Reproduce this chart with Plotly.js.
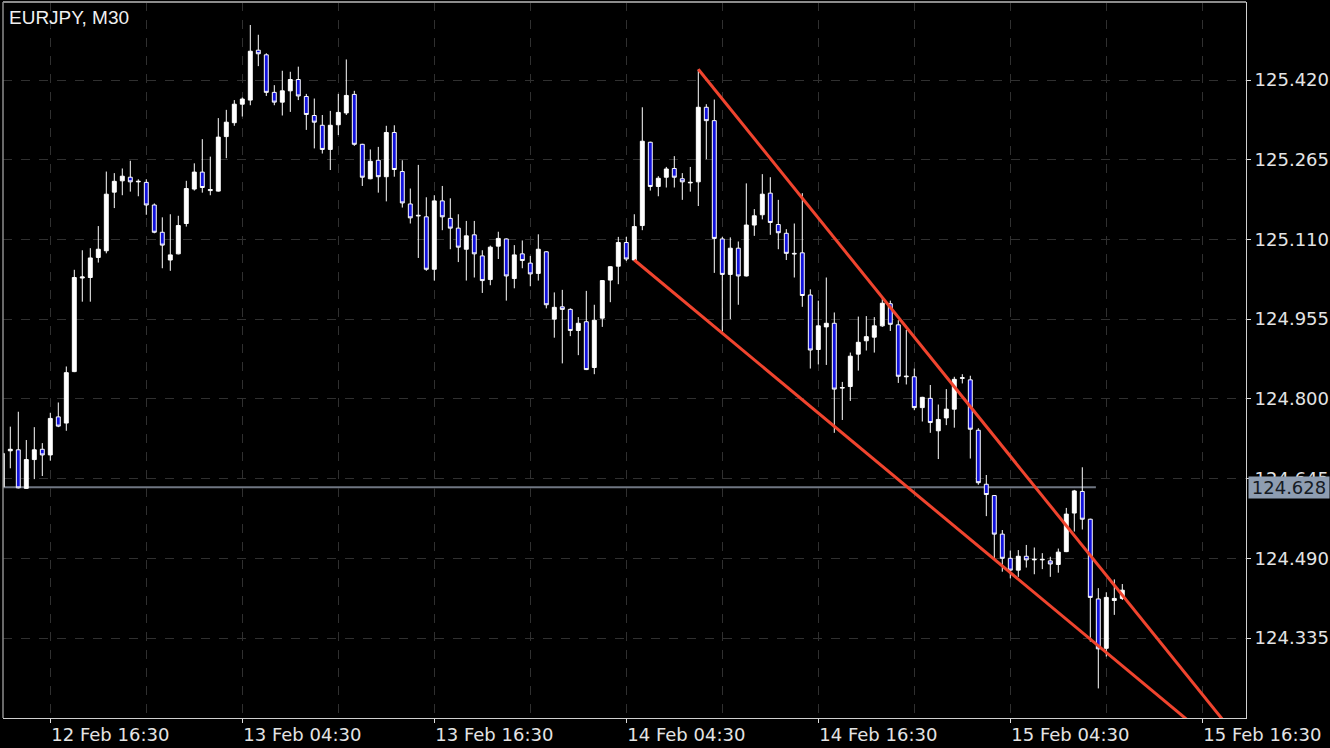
<!DOCTYPE html>
<html>
<head>
<meta charset="utf-8">
<script src="https://cdn.plot.ly/plotly-3.0.1.min.js"></script>
<style>
  html, body { margin: 0; padding: 0; background: #000; }
  #chart { width: 1330px; height: 748px; }
</style>
</head>
<body>
<div id="chart"></div>
<script>
// ---- Data (EURJPY, M30), first bar 2019-02-12 13:30, one bar every 30 minutes ----
const symbolTitle = "EURJPY, M30";
const firstBarTime = "2019-02-12T13:30:00Z";
const barMinutes = 30;

const openV = [124.629,124.699,124.701,124.626,124.682,124.702,124.691,124.765,124.753,124.853,
125.035,125.036,125.075,125.088,125.202,125.224,125.231,125.222,125.221,125.177,
125.124,125.070,125.082,125.141,125.208,125.241,125.205,125.204,125.310,125.337,
125.373,125.381,125.478,125.469,125.396,125.377,125.399,125.421,125.388,125.351,
125.332,125.285,125.333,125.356,125.392,125.295,125.228,125.264,125.232,125.318,
125.242,125.179,125.157,125.154,125.052,125.185,125.151,125.132,125.091,125.119,
125.078,125.032,125.097,125.111,125.034,125.082,125.064,125.044,125.086,124.955,
124.979,124.974,124.933,124.950,124.861,124.957,125.031,125.058,125.104,125.070,
125.137,125.299,125.213,125.231,125.248,125.228,125.220,125.222,125.367,125.341,
125.111,125.042,125.093,125.039,125.138,125.158,125.200,125.139,125.122,125.083,
125.084,125.002,124.896,124.940,124.947,124.821,124.824,124.887,124.913,124.920,
124.942,124.985,124.944,124.843,124.843,124.783,124.801,124.738,124.763,124.780,
124.840,124.837,124.739,124.634,124.612,124.537,124.490,124.467,124.494,124.487,
124.487,124.485,124.478,124.503,124.578,124.620,124.566,124.411,124.315,124.408,
124.412];

const highV = [124.701,124.746,124.775,124.720,124.745,124.714,124.773,124.793,124.863,125.051,
125.089,125.093,125.136,125.242,125.239,125.248,125.263,125.227,125.227,125.180,
125.153,125.159,125.156,125.224,125.258,125.305,125.271,125.346,125.362,125.381,
125.386,125.527,125.508,125.472,125.410,125.438,125.436,125.446,125.393,125.384,
125.352,125.360,125.393,125.460,125.399,125.296,125.285,125.290,125.331,125.332,
125.264,125.209,125.255,125.192,125.196,125.214,125.190,125.159,125.146,125.146,
125.089,125.098,125.125,125.112,125.099,125.108,125.078,125.120,125.087,125.007,
125.012,124.976,124.959,125.010,124.983,125.031,125.058,125.115,125.115,125.159,
125.367,125.300,125.233,125.251,125.272,125.239,125.251,125.441,125.373,125.382,
125.115,125.114,125.106,125.219,125.169,125.237,125.231,125.187,125.130,125.141,
125.200,125.013,124.991,125.036,124.968,124.833,124.890,124.960,124.961,124.959,
124.996,124.991,124.953,124.934,124.859,124.804,124.827,124.789,124.819,124.843,
124.848,124.845,124.743,124.652,124.613,124.545,124.505,124.506,124.516,124.511,
124.500,124.493,124.509,124.588,124.623,124.667,124.567,124.432,124.424,124.449,
124.440];

const lowV = [124.627,124.665,124.626,124.625,124.644,124.650,124.680,124.745,124.738,124.852,
124.989,124.989,125.065,125.083,125.171,125.196,125.203,125.194,125.158,125.122,
125.054,125.049,125.081,125.135,125.205,125.201,125.196,125.203,125.268,125.331,
125.349,125.371,125.447,125.389,125.371,125.351,125.358,125.381,125.323,125.287,
125.277,125.245,125.313,125.352,125.292,125.214,125.227,125.201,125.184,125.232,
125.172,125.141,125.074,125.049,125.030,125.128,125.091,125.066,125.030,125.036,
125.006,125.021,125.072,124.991,125.015,125.054,125.019,125.030,124.976,124.919,
124.869,124.922,124.885,124.856,124.848,124.940,124.988,125.023,125.068,125.069,
125.128,125.205,125.194,125.211,125.211,125.187,125.203,125.175,125.266,125.045,
124.931,124.955,124.983,125.038,125.117,125.149,125.119,125.091,125.070,125.036,
124.979,124.859,124.867,124.866,124.734,124.759,124.796,124.855,124.894,124.890,
124.940,124.932,124.831,124.828,124.778,124.756,124.734,124.683,124.749,124.744,
124.830,124.684,124.633,124.572,124.490,124.464,124.451,124.454,124.472,124.459,
124.469,124.454,124.462,124.502,124.542,124.546,124.328,124.237,124.299,124.380,
124.409];

const closeV = [124.694,124.702,124.627,124.682,124.701,124.691,124.762,124.747,124.851,125.036,
125.037,125.074,125.091,125.198,125.223,125.233,125.222,125.223,125.177,125.124,
125.099,125.080,125.137,125.209,125.241,125.211,125.207,125.309,125.338,125.373,
125.383,125.476,125.471,125.396,125.377,125.399,125.421,125.389,125.353,125.338,
125.285,125.332,125.357,125.390,125.295,125.231,125.262,125.232,125.318,125.246,
125.181,125.152,125.156,125.052,125.185,125.154,125.132,125.095,125.117,125.082,
125.030,125.095,125.112,125.039,125.080,125.069,125.043,125.091,124.983,124.978,
124.974,124.933,124.947,124.857,124.953,125.030,125.057,125.104,125.072,125.135,
125.301,125.213,125.229,125.247,125.231,125.222,125.221,125.367,125.341,125.112,
125.042,125.093,125.039,125.138,125.156,125.198,125.143,125.123,125.083,125.082,
125.001,124.895,124.942,124.947,124.819,124.822,124.883,124.910,124.921,124.942,
124.986,124.945,124.844,124.844,124.783,124.803,124.754,124.760,124.780,124.838,
124.841,124.741,124.637,124.614,124.537,124.490,124.467,124.494,124.487,124.488,
124.488,124.479,124.502,124.576,124.621,124.566,124.414,124.314,124.414,124.412,
124.428];

// y-axis tick values (price scale)
const yTickVals = [124.335, 124.490, 124.645, 124.800, 124.955, 125.110, 125.265, 125.420];
// x-axis labels every 12 hours, grid every 6 hours
const xTick0 = "2019-02-12 16:30";

// current price line
const currentPrice = 124.628;
const currentPriceLineEnd = "2019-02-15 09:51";

// trend lines (red)
const upperTrendX = ["2019-02-14 09:00", "2019-02-15 19:00"];
const upperTrendY = [125.441, 124.129];
const lowerTrendX = ["2019-02-14 05:00", "2019-02-15 19:00"];
const lowerTrendY = [125.070, 124.087];

// visible window
const xRange = ["2019-02-12 13:32:37", "2019-02-15 19:13:52"];
const yRange = [124.1795, 125.5717];

// ---- build times ----
function fmt(ms) {
  const d = new Date(ms);
  const p = n => String(n).padStart(2, "0");
  return d.getUTCFullYear() + "-" + p(d.getUTCMonth() + 1) + "-" + p(d.getUTCDate()) +
         " " + p(d.getUTCHours()) + ":" + p(d.getUTCMinutes());
}
const t0 = Date.parse(firstBarTime);
const times = openV.map((_, i) => fmt(t0 + i * barMinutes * 60000));

const TICK_FONT = { family: "DejaVu Sans", size: 18, color: "#e4e4e4" };
const GRID = "#303030";

const traces = [
  {
    type: "candlestick",
    x: times, open: openV, high: highV, low: lowV, close: closeV,
    increasing: { line: { color: "#ffffff", width: 1 }, fillcolor: "#ffffff" },
    decreasing: { line: { color: "#ffffff", width: 1 }, fillcolor: "#1212dc" },
    whiskerwidth: 0,
    showlegend: false,
    hoverinfo: "skip"
  },
  {
    type: "scatter", mode: "lines",
    x: upperTrendX, y: upperTrendY,
    line: { color: "#f0442e", width: 3 },
    showlegend: false, hoverinfo: "skip"
  },
  {
    type: "scatter", mode: "lines",
    x: lowerTrendX, y: lowerTrendY,
    line: { color: "#f0442e", width: 3 },
    showlegend: false, hoverinfo: "skip"
  }
];

const layout = {
  width: 1330, height: 748,
  margin: { l: 3, r: 84, t: 2, b: 30, pad: 0 },
  paper_bgcolor: "#000000",
  plot_bgcolor: "#000000",
  showlegend: false,
  hovermode: false,
  xaxis: {
    type: "date",
    range: xRange,
    rangeslider: { visible: false },
    tick0: xTick0,
    dtick: 12 * 3600 * 1000,
    tickformat: "%d %b %H:%M",
    ticklabelposition: "outside right",
    ticks: "outside", ticklen: 4, tickcolor: "#dddddd", tickwidth: 1,
    tickfont: TICK_FONT,
    showgrid: true, gridcolor: GRID, griddash: "dash", gridwidth: 1,
    minor: { dtick: 6 * 3600 * 1000, tick0: xTick0, showgrid: true, gridcolor: GRID, griddash: "dash", gridwidth: 1, ticks: "" },
    showline: true, linecolor: "#d0d0d0", linewidth: 1,
    zeroline: false, fixedrange: true
  },
  yaxis: {
    side: "right",
    range: yRange,
    tickmode: "array",
    tickvals: yTickVals,
    ticktext: yTickVals.map(v => v.toFixed(3)),
    ticks: "outside", ticklen: 4, tickcolor: "#dddddd", tickwidth: 1,
    tickfont: TICK_FONT,
    showgrid: true, gridcolor: GRID, griddash: "dash", gridwidth: 1,
    showline: true, linecolor: "#d0d0d0", linewidth: 1,
    zeroline: false, fixedrange: true
  },
  shapes: [
    { type: "line", layer: "below", xref: "x", yref: "y",
      x0: xRange[0], x1: currentPriceLineEnd, y0: currentPrice, y1: currentPrice,
      line: { color: "#6f7682", width: 2 } },
    { type: "line", xref: "paper", yref: "paper", x0: 0, x1: 1, y0: 1, y1: 1,
      line: { color: "#8c8c8c", width: 2 } },
    { type: "line", xref: "paper", yref: "paper", x0: 0, x1: 0, y0: 0, y1: 1,
      line: { color: "#8c8c8c", width: 1.5 } }
  ],
  annotations: [
    { text: symbolTitle, xref: "paper", yref: "paper", x: 0.0032, y: 1,
      xanchor: "left", yanchor: "top", yshift: -3, showarrow: false,
      font: { family: "Liberation Sans", size: 19, color: "#f0f0f0" } },
    { text: currentPrice.toFixed(3), xref: "paper", yref: "y", x: 1, y: currentPrice,
      xanchor: "left", yanchor: "middle", xshift: 2, showarrow: false,
      bgcolor: "#8e9db1", width: 80, height: 21, borderpad: 0, align: "center",
      font: { family: "DejaVu Sans", size: 18, color: "#161b24" } }
  ]
};

Plotly.newPlot("chart", traces, layout, { displayModeBar: false, staticPlot: true });
</script>
</body>
</html>
